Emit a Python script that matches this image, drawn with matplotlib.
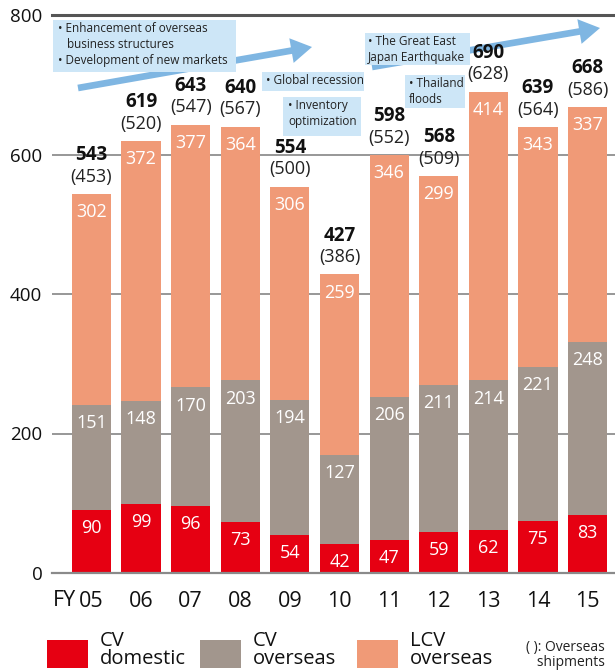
import matplotlib
matplotlib.use("Agg")
import matplotlib.pyplot as plt
from matplotlib.patches import Rectangle
import numpy as np

plt.rcParams['font.family'] = ['Open Sans', 'DejaVu Sans']

years = ['05', '06', '07', '08', '09', '10', '11', '12', '13', '14', '15']
cv_domestic = [90, 99, 96, 73, 54, 42, 47, 59, 62, 75, 83]
cv_overseas = [151, 148, 170, 203, 194, 127, 206, 211, 214, 221, 248]
lcv_overseas = [302, 372, 377, 364, 306, 259, 346, 299, 414, 343, 337]
totals = [543, 619, 643, 640, 554, 427, 598, 568, 690, 639, 668]
overseas_ship = [453, 520, 547, 567, 500, 386, 552, 509, 628, 564, 586]

C_RED = '#E60012'
C_GRAY = '#A2968D'
C_SALMON = '#F09A77'
C_BOX = '#CDE6F7'
C_ARROW = '#7FB6E2'

W, H = 615, 672
fig = plt.figure(figsize=(W / 100, H / 100), dpi=100)

def fx(x):
    return x / W

def fy(y):
    return 1 - y / H

ax = fig.add_axes([fx(52), fy(573), fx(615) - fx(52), fy(15) - fy(573)])
x = np.arange(len(years))
ax.set_xlim(-0.796, 10.554)
ax.set_ylim(0, 800)
for s in ax.spines.values():
    s.set_visible(False)

for g in [200, 400, 600]:
    ax.axhline(g, color='#7a7a7a', lw=1.1, zorder=0)
ax.axhline(800, color='#555555', lw=2.2, zorder=0, clip_on=False)
ax.axhline(0, color='#8a8a8a', lw=1.6, zorder=3, clip_on=False)

bw = 0.79
b1 = np.array(cv_domestic)
b2 = np.array(cv_overseas)
b3 = np.array(lcv_overseas)
ax.bar(x, b1, bw, color=C_RED, zorder=2)
ax.bar(x, b2, bw, bottom=b1, color=C_GRAY, zorder=2)
ax.bar(x, b3, bw, bottom=b1 + b2, color=C_SALMON, zorder=2)

for i in range(len(years)):
    tops = [b1[i], b1[i] + b2[i], b1[i] + b2[i] + b3[i]]
    vals = [b1[i], b2[i], b3[i]]
    for t, v in zip(tops, vals):
        ax.annotate(str(v), (x[i], t), xytext=(0, -13), textcoords='offset points',
                    ha='center', va='center', color='white', fontsize=13, zorder=4)
    ax.annotate(f'({overseas_ship[i]})', (x[i], tops[2]), xytext=(0, 12.5),
                textcoords='offset points', ha='center', va='center',
                color='#222222', fontsize=13, zorder=9)
    ax.annotate(str(totals[i]), (x[i], tops[2]), xytext=(0, 28),
                textcoords='offset points', ha='center', va='center',
                color='#111111', fontsize=13.5, fontweight='bold', zorder=9)

ax.set_xticks(x)
ax.set_xticklabels(years, fontsize=15.5, color='#111111')
ax.set_yticks([0, 200, 400, 600, 800])
ax.set_yticklabels(['0', '200', '400', '600', '800'], fontsize=13.5, color='#111111')
ax.tick_params(axis='x', length=0, pad=13)
ax.tick_params(axis='y', length=0, pad=7)
fig.text(fx(76), fy(600), 'FY', ha='right', va='center', fontsize=15.5, color='#111111')

# annotation boxes (drawn in the axes so bar labels can sit above them)
def box(x0, y0, x1, y1, text, tx, ty, fs=8.5, ls=1.3):
    ax.add_patch(Rectangle((fx(x0), fy(y1)), fx(x1) - fx(x0), fy(y0) - fy(y1),
                           transform=fig.transFigure, facecolor=C_BOX,
                           edgecolor='none', zorder=5, clip_on=False))
    ax.text(fx(tx), fy(ty), text, ha='left', va='top', fontsize=fs,
            linespacing=ls, color='#222222', zorder=6, transform=fig.transFigure,
            clip_on=False)

box(53, 20, 236, 72,
    '• Enhancement of overseas\n   business structures\n• Development of new markets', 58, 22)
box(262, 72, 364, 91, '• Global recession', 266, 74)
box(283, 97, 361, 136, '• Inventory\noptimization', 288, 99)
box(365, 33, 470, 65, '• The Great East\nJapan Earthquake', 368, 35)
box(405, 75, 465, 108, '• Thailand\nfloods', 409, 77)

def arrow(x0, y0, x1, y1):
    a = ax.annotate('', xy=(x1, H - y1), xytext=(x0, H - y0), xycoords='figure pixels',
                    textcoords='figure pixels',
                    arrowprops=dict(arrowstyle='simple,head_width=0.9,head_length=0.75,tail_width=0.24',
                                    mutation_scale=20, color=C_ARROW, lw=0,
                                    shrinkA=0, shrinkB=0))
    a.set_zorder(4.5)

arrow(78, 88, 312, 47)
arrow(372, 67, 600, 28)

# legend
def leg(x0, color, text):
    fig.patches.append(Rectangle((fx(x0), fy(668)), fx(41), fy(640) - fy(668),
                                 transform=fig.transFigure, facecolor=color, edgecolor='none'))
    fig.text(fx(x0 + 53), fy(669), text, ha='left', va='bottom', fontsize=14.5,
             linespacing=0.85, color='#111111')

leg(47, C_RED, 'CV\ndomestic')
leg(200, C_GRAY, 'CV\noverseas')
leg(357, C_SALMON, 'LCV\noverseas')
fig.text(fx(565), fy(670), '( ): Overseas\n   shipments', ha='center', va='bottom',
         fontsize=10, linespacing=1.0, color='#222222')

fig.savefig('out.png', dpi=100)
